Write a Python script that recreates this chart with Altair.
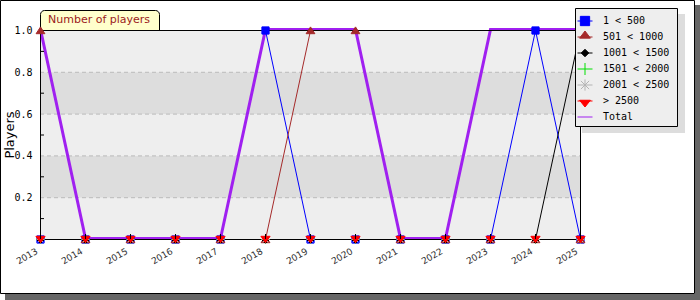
import altair as alt
import pandas as pd

# ---------------- data ----------------
years = [2013, 2014, 2015, 2016, 2017, 2018, 2019, 2020, 2021, 2022, 2023, 2024, 2025]
series_names = ["1 < 500", "501 < 1000", "1001 < 1500", "1501 < 2000",
                "2001 < 2500", "> 2500", "Total"]
s_1_500     = [0, 0, 0, 0, 0, 1, 0, 0, 0, 0, 0, 1, 0]
s_501_1000  = [1, 0, 0, 0, 0, 0, 1, 1, 0, 0, 0, 0, 0]
s_1001_1500 = [0, 0, 0, 0, 0, 0, 0, 0, 0, 0, 0, 0, 1]
s_1501_2000 = [0, 0, 0, 0, 0, 0, 0, 0, 0, 0, 0, 0, 0]
s_2001_2500 = [0, 0, 0, 0, 0, 0, 0, 0, 0, 0, 0, 0, 0]
s_2500_plus = [0, 0, 0, 0, 0, 0, 0, 0, 0, 0, 0, 0, 0]
total       = [1, 0, 0, 0, 0, 1, 1, 1, 0, 0, 1, 1, 1]
y_tick_values = [0.2, 0.4, 0.6, 0.8, 1.0]
y_minor_ticks = [0.1, 0.3, 0.5, 0.7, 0.9]
grid_values = [0.2, 0.4, 0.6, 0.8]
light_lo, light_hi = [0.0, 0.4, 0.8], [0.2, 0.6, 1.0]
dark_lo, dark_hi = [0.2, 0.6], [0.4, 0.8]

# ---------------- styles ----------------
colors = ["#0000ff", "#a52a2a", "#000000", "#00e000", "#b4b4b4", "#ff0000", "#a020f0"]
plot_shapes = [
    "M-0.9,-0.9H0.9V0.9H-0.9Z",
    "M-1.1,0.8L0,-0.9L1.1,0.8Z",
    "M0,-1L1,0L0,1L-1,0Z",
    "M-1,0H1M0,-1V1",
    "M-1,0H1M0,-1V1M-0.7,-0.7L0.7,0.7M-0.7,0.7L0.7,-0.7",
    "M-1.15,-0.8L1.15,-0.8L0,0.8Z",
]
# each legend symbol carries two zero-length segments so all rows get equal height
pad = "M-1,-0.8L-1,-0.8M1,0.8L1,0.8"
legend_shapes = [
    pad + "M-1,0H1M-0.62,-0.62H0.62V0.62H-0.62Z",
    pad + "M-1,0H1M-0.72,0.15L0,-0.8L0.72,0.15Z",
    pad + "M-1,0H1M0,-0.5L0.5,0L0,0.5L-0.5,0Z",
    pad + "M-1,0H1M0,-0.8V0.8",
    pad + "M-1,0H1M0,-0.75V0.75M-0.55,-0.55L0.55,0.55M-0.55,0.55L0.55,-0.55",
    pad + "M-1,0H1M-0.72,-0.1L0.72,-0.1L0,0.8Z",
    pad + "M-1,0H1",
]

W, H = 540, 209

series_values = [s_1_500, s_501_1000, s_1001_1500, s_1501_2000, s_2001_2500, s_2500_plus]
rows = []
for name, vals in zip(series_names[:6], series_values):
    for yr, v in zip(years, vals):
        rows.append({"year": yr, "value": v, "series": name})
df = pd.DataFrame(rows)
total_df = pd.DataFrame({"year": years, "value": total})
one = pd.DataFrame({"k": [0]})

xs = alt.Scale(domain=[2013, 2025], nice=False, zero=False, range=[0.5, W + 0.5])
ys = alt.Scale(domain=[0, 1], nice=False, zero=False, range=[H + 0.5, 0.5])


def box(x0, x1, y0, y1, **kw):
    return alt.Chart(one).mark_rect(**kw).encode(
        x=alt.value(x0), x2=alt.value(x1), y=alt.value(y0), y2=alt.value(y1))


y_axis = alt.Axis(values=y_tick_values, format=".1f", grid=False, ticks=False, domain=False,
                  labelFont="DejaVu Sans Mono", labelFontSize=10, labelColor="black",
                  labelPadding=8, title="Players", titleFont="DejaVu Sans", titleFontSize=13,
                  titleFontWeight="normal", titleColor="black", titleAngle=270,
                  titleX=-31, titleY=H / 2, titleAlign="center", titleBaseline="middle")
x_axis = alt.Axis(values=years, format="d", grid=False, ticks=False, domain=False, title="",
                  labelAngle=330, labelAlign="right", labelBaseline="middle", labelPadding=11,
                  labelOffset=-4, labelFont="DejaVu Sans", labelFontSize=9, labelColor="#333333",
                  labelFlush=False, labelOverlap=False)

layers = []
# outer frame shadow (right and bottom strips) and border
layers.append(box(655, 660, -25, 270, fill="#666666"))
layers.append(box(-35, 655, 264, 270, fill="#666666"))
layers.append(box(-39.5, 654.5, -29.5, 263.5, fill="transparent", stroke="black", strokeWidth=1))
# background bands
layers.append(alt.Chart(pd.DataFrame({"lo": light_lo, "hi": light_hi})).mark_rect(fill="#eeeeee").encode(
    y=alt.Y("lo:Q", scale=ys, axis=y_axis), y2="hi:Q", x=alt.value(0), x2=alt.value(W)))
layers.append(alt.Chart(pd.DataFrame({"lo": dark_lo, "hi": dark_hi})).mark_rect(fill="#dddddd").encode(
    y=alt.Y("lo:Q", scale=ys), y2="hi:Q", x=alt.value(0), x2=alt.value(W)))
# dashed grid
layers.append(alt.Chart(pd.DataFrame({"v": grid_values})).mark_rule(
    color="#bbbbbb", strokeDash=[4, 3], strokeWidth=1).encode(
    y=alt.Y("v:Q", scale=ys), x=alt.value(0), x2=alt.value(W)))
# title tab
layers.append(alt.Chart(one).mark_rect(fill="#ffffcc", stroke="black", strokeWidth=1,
                                       cornerRadiusTopLeft=4, cornerRadiusTopRight=4).encode(
    x=alt.value(0.5), x2=alt.value(119.5), y=alt.value(-19.5), y2=alt.value(0.5)))
layers.append(alt.Chart(one).mark_text(text="Number of players", align="left", baseline="middle",
                                       font="DejaVu Sans", fontSize=11, color="#9b1b1b").encode(
    x=alt.value(8), y=alt.value(-10)))
# thin series lines
layers.append(alt.Chart(df).mark_line(strokeWidth=1).encode(
    x=alt.X("year:Q", scale=xs, axis=x_axis),
    y=alt.Y("value:Q", scale=ys),
    color=alt.Color("series:N", scale=alt.Scale(domain=series_names[:6], range=colors[:6]), legend=None),
    detail="series:N"))
# total line
layers.append(alt.Chart(total_df).mark_line(color=colors[6], strokeWidth=3, yOffset=-1).encode(
    x=alt.X("year:Q", scale=xs), y=alt.Y("value:Q", scale=ys)))
# plot frame
layers.append(box(0.5, W + 0.5, 0.5, H + 0.5, fill="transparent", stroke="black", strokeWidth=1))
# markers
for name, col, shp in zip(series_names[:6], colors[:6], plot_shapes):
    layers.append(alt.Chart(df).transform_filter(alt.datum.series == name).mark_point(
        shape=shp, size=64, filled=True, fill=col, stroke=col, strokeWidth=1, opacity=1).encode(
        x=alt.X("year:Q", scale=xs), y=alt.Y("value:Q", scale=ys)))
# inner ticks
layers.append(alt.Chart(pd.DataFrame({"year": years})).mark_rule(color="black", strokeWidth=1).encode(
    x=alt.X("year:Q", scale=xs), y=alt.value(H), y2=alt.value(H - 5)))
layers.append(alt.Chart(pd.DataFrame({"v": y_minor_ticks})).mark_rule(color="black", strokeWidth=1).encode(
    y=alt.Y("v:Q", scale=ys), x=alt.value(0), x2=alt.value(4)))
# legend box with shadow
layers.append(box(542, 645, -16, 103, fill="#dddddd"))
layers.append(box(535.5, 637.5, -21.5, 96.5, fill="#eeeeee", stroke="black", strokeWidth=1))

leg = alt.Legend(orient="none", legendX=537, legendY=-17, title=None, direction="vertical",
                 padding=0, rowPadding=0, symbolSize=225, symbolStrokeWidth=1, symbolOpacity=1,
                 symbolFillColor="transparent", symbolStrokeColor="transparent",
                 labelOffset=10, labelFont="DejaVu Sans Mono", labelFontSize=10,
                 labelColor="black", labelLimit=300)
layers.append(alt.Chart(df).transform_filter("false").mark_point(opacity=1, strokeWidth=1).encode(
    x=alt.X("year:Q", scale=xs), y=alt.Y("value:Q", scale=ys),
    fill=alt.Fill("series:N", scale=alt.Scale(domain=series_names, range=colors), legend=leg),
    stroke=alt.Stroke("series:N", scale=alt.Scale(domain=series_names, range=colors), legend=leg),
    shape=alt.Shape("series:N", scale=alt.Scale(domain=series_names, range=legend_shapes), legend=leg)))

chart = alt.layer(*layers).properties(
    width=W, height=H,
    padding={"left": 40, "top": 30, "right": 120, "bottom": 61},
    autosize=alt.AutoSizeParams(type="none"),
    background="white",
).configure_view(stroke="transparent")

chart.save("out.html", embed_options={"renderer": "svg", "actions": False})
